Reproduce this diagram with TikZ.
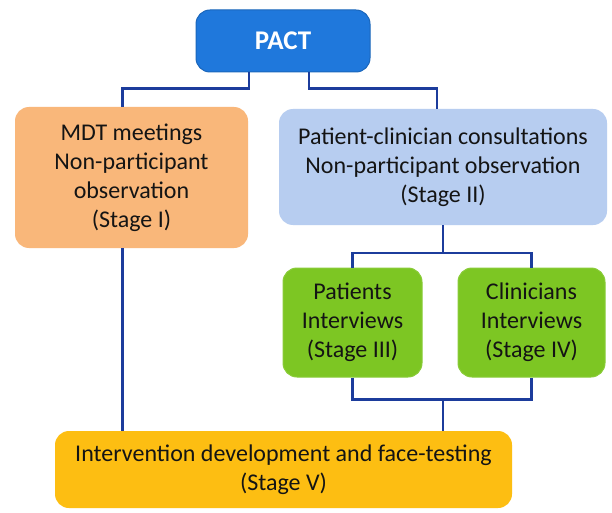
\documentclass[tikz,border=0pt]{standalone}
\usepackage{fontspec}
\setmainfont{Carlito}
\usetikzlibrary{calc}
\definecolor{pactblue}{HTML}{1F78DC}
\definecolor{mdtorange}{HTML}{F9B77A}
\definecolor{consultblue}{HTML}{B7CDF0}
\definecolor{interviewgreen}{HTML}{7DC623}
\definecolor{develyellow}{HTML}{FDBE12}
\definecolor{linkblue}{HTML}{1C3C9C}
\definecolor{textdark}{HTML}{141414}
\begin{document}
\begin{tikzpicture}[x=1pt, y=-1pt,
        stagebox/.style={rounded corners=14pt, align=center, text=textdark,
            font=\fontsize{24}{29}\selectfont, inner sep=0pt},
        link/.style={color=linkblue, line width=2.4pt}]
                \useasboundingbox[fill=white] (0, 0) rectangle (612, 513);
                \node[stagebox, fill=pactblue, draw=pactblue!85!black, line width=1pt, text=white,
                    font=\fontsize{27}{30}\selectfont\bfseries,
                    minimum width=174pt, minimum height=62pt] (pact) at (283, 41) {PACT};
                \node[stagebox, fill=mdtorange, minimum width=233pt, minimum height=141pt]
                    (mdt) at (131.5, 177.5) {MDT meetings\\Non-participant\\observation\\(Stage I)};
                \node[stagebox, fill=consultblue, minimum width=328pt, minimum height=116pt]
                    (consult) at (443, 167) {Patient-clinician consultations\\Non-participant observation\\(Stage II)};
                \node[stagebox, fill=interviewgreen, draw=interviewgreen!90!white, line width=1pt,
                    minimum width=139pt, minimum height=109pt]
                    (patients) at (352.5, 322.5) {Patients\\Interviews\\(Stage III)};
                \node[stagebox, fill=interviewgreen, draw=interviewgreen!90!white, line width=1pt,
                    minimum width=147pt, minimum height=109pt]
                    (clinicians) at (531.5, 322.5) {Clinicians\\Interviews\\(Stage IV)};
                \node[stagebox, fill=develyellow, minimum width=457pt, minimum height=77pt]
                    (devel) at (283.5, 469.5) {Intervention development and face-testing\\(Stage V)};
                \draw[link] ([xshift=-34pt]pact.south) -- ++(0, 16) -| ([xshift=-9pt]mdt.north);
                \draw[link] ([xshift=26pt]pact.south) -- ++(0, 16) -| ([xshift=-6pt]consult.north);
                \draw[link] (consult.south) -- ++(0, 28) coordinate (split);
                \draw[link] (patients.north) |- (split) -| (clinicians.north);
                \draw[link] (patients.south) -- ++(0, 22) coordinate (join) -| (clinicians.south);
                \draw[link] (join -| consult.south) -- (consult.south |- devel.north);
                \draw[link] ([xshift=-9pt]mdt.south) -- ([xshift=-9pt]mdt.south |- devel.north);
            \end{tikzpicture}
\end{document}
